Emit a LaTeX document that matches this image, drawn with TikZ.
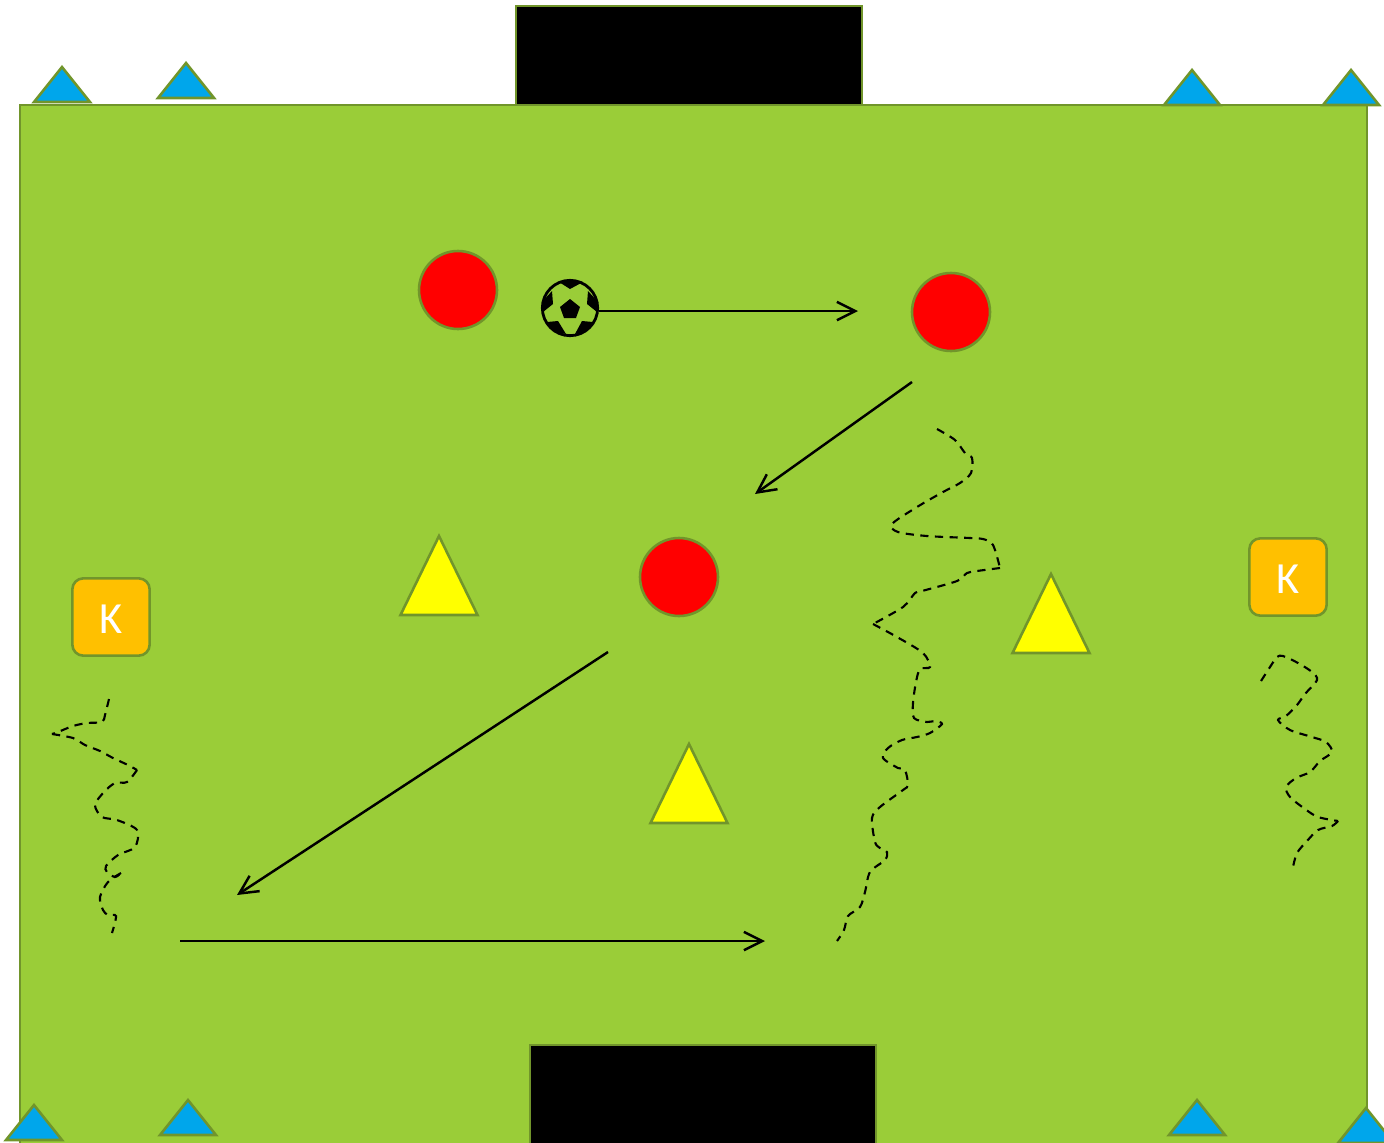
\documentclass[tikz,border=0pt]{standalone}
\usepackage{xcolor}
\usepackage{fontspec}
\setsansfont{Carlito}
\usepackage{tikz}
\usetikzlibrary{arrows.meta}
\definecolor{pitch}{HTML}{9ACD38}
\definecolor{rim}{HTML}{71952B}
\definecolor{cone}{HTML}{00A6EB}
\definecolor{keeper}{HTML}{FFC000}
\definecolor{marker}{HTML}{FFFF00}
\definecolor{shirt}{HTML}{FF0000}
\tikzset{
  edged/.style={draw=rim, line width=2.2pt, line join=miter},
  frame/.style={draw=rim, line width=1.9pt},
  player/.style={circle, edged, fill=shirt, minimum size=2.34cm, inner sep=0pt},
  keeperbox/.style={rectangle, rounded corners=0.33cm, edged, fill=keeper, minimum size=2.32cm, inner sep=0pt, text=white, text height=28pt, text depth=0pt, font=\sffamily\fontsize{38}{40}\selectfont},
  passline/.style={-{Straight Barb[length=5.5mm,width=5.5mm,line width=2.1pt]}, line width=2.1pt},
  runline/.style={line width=1.8pt, dash pattern=on 7pt off 5.5pt, smooth, tension=0.5},
}
\begin{document}
\begin{tikzpicture}[x=0.03cm,y=-0.03cm]
\useasboundingbox (0,0) rectangle (1384,1142);
\clip (0,0) rectangle (1384,1142);
\draw[frame, fill=pitch] (20,105) rectangle (1367,1160);
\draw[frame, fill=black] (516,105) rectangle (862,6);
\draw[frame, fill=black] (530,1160) rectangle (876,1045);
% cones
\foreach \x/\y in {62/102, 186/98, 1192/105, 1351/105, 34/1140, 188/1135, 1197/1135, 1366/1143}
  \draw[edged, fill=cone] (\x-28,\y) -- (\x,\y-35) -- (\x+28,\y) -- cycle;
% markers
\foreach \x/\y in {439/615, 1051/653, 689/823}
  \draw[edged, fill=marker] (\x-38.5,\y) -- (\x,\y-79) -- (\x+38.5,\y) -- cycle;
% players
\node[player] (playerA) at (458,290) {};
\node[player] (playerB) at (951,312) {};
\node[player] (playerC) at (679,577) {};
\node[keeperbox] (keeperL) at (111,617) {K};
\node[keeperbox] (keeperR) at (1288,577) {K};
% ball
\node[circle, draw=black, line width=2.4pt, fill=pitch, minimum size=1.66cm, inner sep=0pt] (ball) at (570,308) {};
\fill (570,299) -- (580,307) -- (576,318) -- (564,318) -- (560,307) -- cycle;
\fill (559,282) -- (570,279) -- (583,282) -- (570,289) -- cycle;
\fill (552,291) -- (542,302) -- (543,312) -- (553,304) -- cycle;
\fill (588,291) -- (598,302) -- (597,312) -- (587,304) -- cycle;
\fill (547,322) -- (558,321) -- (566,334) -- (555,332) -- cycle;
\fill (593,322) -- (582,321) -- (575,334) -- (585,332) -- cycle;
% passes
\coordinate (passA) at (858,311);
\coordinate (passBs) at (912,382);
\coordinate (passBe) at (755,494);
\coordinate (passCs) at (608,652);
\coordinate (passCe) at (237,895);
\coordinate (passDs) at (180,941);
\coordinate (passDe) at (765,941);
\draw[passline] (ball.east |- passA) -- (passA);
\draw[passline] (passBs) -- (passBe);
\draw[passline] (passCs) -- (passCe);
\draw[passline] (passDs) -- (passDe);
% runs
\draw[runline] plot coordinates {(937,429) (955,440) (965,453) (972,458) (971,473) (960,483) (943,492) (917,507) (892,524) (898,532) (927,536) (970,538) (983,539) (993,545) (1000,568)};
\draw[runline] plot coordinates {(1000,568) (977,571) (967,573) (957,581) (922,591) (915,593) (903,607) (873,624)};
\draw[runline] plot coordinates {(873,624) (897,637) (923,653) (930,667) (920,669) (916,682) (913,703) (914,718) (927,722) (935,721) (942,724) (930,733) (917,737) (902,740) (888,748) (883,758) (898,768) (905,770) (908,785) (903,790) (880,807) (872,818) (875,842) (880,848) (887,852) (885,860) (870,872) (865,892) (860,907) (848,916) (844,930) (837,941)};
\draw[runline] plot coordinates {(109,699) (105,715) (102,722) (87,723) (73,726) (58,732) (52,734)};
\draw[runline] plot coordinates {(52,734) (73,738) (85,745) (100,751) (113,758) (128,765) (137,770)};
\draw[runline] plot coordinates {(137,770) (127,782) (115,783) (104,792) (95,805) (102,817) (117,820) (137,830) (135,847) (118,855) (106,866) (107,872) (115,877) (121,873)};
\draw[runline] plot coordinates {(121,873) (108,882) (100,897) (103,910) (108,915) (116,916) (112,933)};
\draw[runline] plot coordinates {(1261,681) (1270,667) (1277,657) (1283,656) (1298,663) (1312,672) (1317,680) (1305,694) (1297,705) (1286,716) (1278,720) (1290,730) (1312,737) (1326,742) (1332,752) (1320,761) (1310,772) (1296,778) (1286,787) (1290,797) (1305,809) (1318,817) (1338,821)};
\draw[runline] plot coordinates {(1338,821) (1332,826) (1318,830) (1307,841) (1297,853) (1293,867)};
\end{tikzpicture}
\end{document}
